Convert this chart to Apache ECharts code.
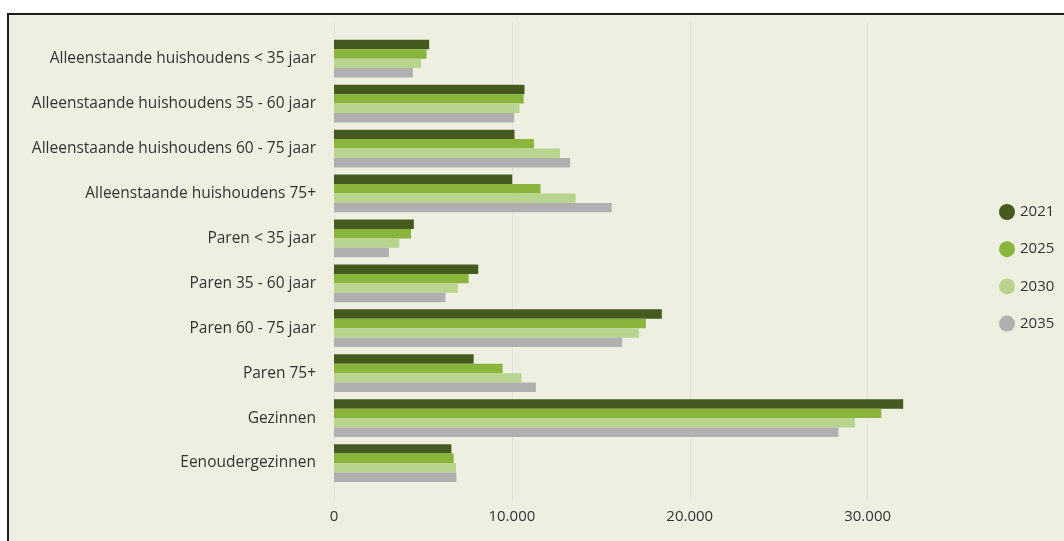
<!DOCTYPE html>
<html>
<head>
<meta charset="utf-8">
<script src="https://cdn.jsdelivr.net/npm/echarts@6/dist/echarts.min.js"></script>
<style>
  html, body { margin: 0; padding: 0; width: 1064px; height: 541px; overflow: hidden; background: #ffffff; }
  #frame { position: absolute; left: 7px; top: 13px; width: 1200px; height: 700px; border-left: 2px solid #1e1e1e; border-top: 2px solid #1e1e1e; background: #edf0e1; }
  #chart { position: absolute; left: 0; top: 0; width: 1064px; height: 541px; }
</style>
</head>
<body>
<div id="frame"></div>
<div id="chart"></div>
<script>
const categories = [
  'Alleenstaande huishoudens < 35 jaar',
  'Alleenstaande huishoudens 35 - 60 jaar',
  'Alleenstaande huishoudens 60 - 75 jaar',
  'Alleenstaande huishoudens 75+',
  'Paren < 35 jaar',
  'Paren 35 - 60 jaar',
  'Paren 60 - 75 jaar',
  'Paren 75+',
  'Gezinnen',
  'Eenoudergezinnen'
];
const years = ['2021', '2025', '2030', '2035'];
const v2021 = [5350, 10710, 10150, 10020, 4490, 8110, 18430, 7850, 32000, 6600];
const v2025 = [5200, 10660, 11240, 11610, 4330, 7570, 17530, 9480, 30770, 6730];
const v2030 = [4890, 10430, 12700, 13580, 3670, 6970, 17150, 10540, 29290, 6860];
const v2035 = [4440, 10130, 13280, 15620, 3090, 6270, 16200, 11350, 28360, 6880];
const xTicks = [0, 10000, 20000, 30000, 40000];

const colors = ['#455a1f', '#8ab43c', '#b8d48e', '#b0b0b0'];
const seriesValues = [v2021, v2025, v2030, v2035];
const font = '"Open Sans", "Noto Sans", sans-serif';
const textColor = '#333333';

function fmt(v) {
  return String(v).replace(/\B(?=(\d{3})+(?!\d))/g, '.');
}

const chart = echarts.init(document.getElementById('chart'), null, { renderer: 'canvas' });
chart.setOption({
  animation: false,
  backgroundColor: 'transparent',
  textStyle: { fontFamily: font },
  grid: [
    { left: 334, right: 18.5, top: 36.2, bottom: 55.5 },
    { left: 334, right: 18.5, top: 22, bottom: 41 }
  ],
  legend: {
    orient: 'vertical',
    left: 994,
    top: 199,
    icon: 'circle',
    itemWidth: 16,
    itemHeight: 16,
    itemGap: 21.2,
    data: years,
    textStyle: { fontSize: 15, color: textColor, fontFamily: font }
  },
  xAxis: [
    { gridIndex: 0, type: 'value', min: xTicks[0], max: xTicks[xTicks.length - 1], interval: 10000, show: false },
    {
      gridIndex: 1, type: 'value', min: xTicks[0], max: xTicks[xTicks.length - 1], interval: 10000,
      axisLine: { show: false }, axisTick: { show: false },
      splitLine: { show: true, showMaxLine: false, lineStyle: { color: '#e0e0e6', width: 1 } },
      axisLabel: { showMaxLabel: false, margin: 9.5, fontSize: 15, color: textColor, fontFamily: font, formatter: fmt }
    }
  ],
  yAxis: [
    {
      gridIndex: 0, type: 'category', data: categories, inverse: true,
      axisLine: { show: false }, axisTick: { show: false }, splitLine: { show: false },
      axisLabel: { margin: 18, fontSize: 15.5, color: textColor, fontFamily: font }
    },
    { gridIndex: 1, type: 'value', show: false, splitLine: { show: false } }
  ],
  series: years.map((y, i) => ({
    name: y,
    type: 'bar',
    xAxisIndex: 0,
    yAxisIndex: 0,
    data: seriesValues[i],
    itemStyle: { color: colors[i] },
    barGap: '0%',
    barCategoryGap: '16%'
  }))
});
</script>
</body>
</html>
